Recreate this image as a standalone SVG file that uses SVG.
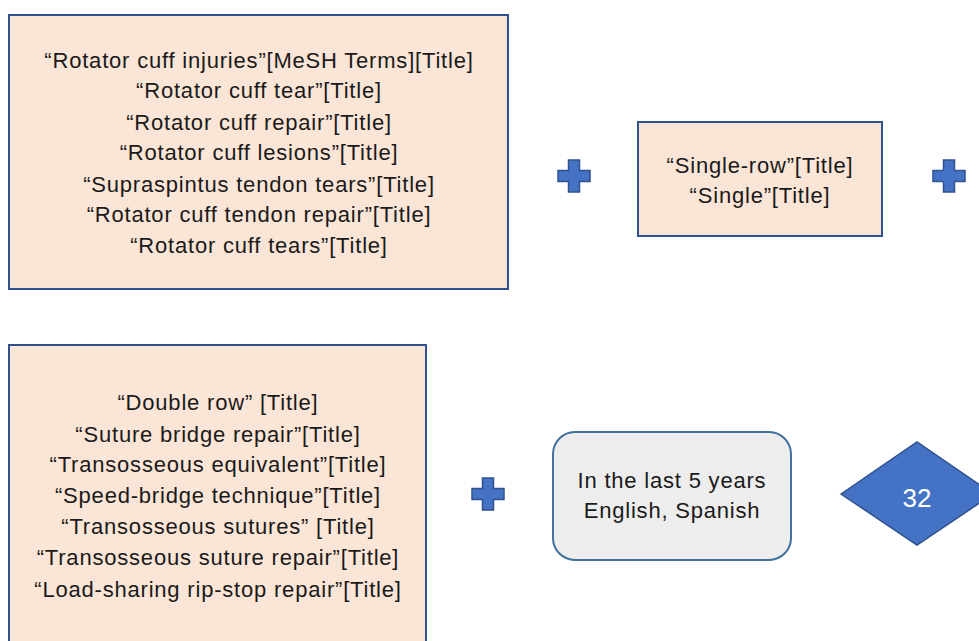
<svg xmlns="http://www.w3.org/2000/svg" width="979" height="641" viewBox="0 0 979 641">
<defs>
<style>
.box{fill:#FBE5D6;stroke:#2F528F;stroke-width:2}
.gbox{fill:#EDEDED;stroke:#41719C;stroke-width:2}
.plus{fill:#4472C4;stroke:#2F528F;stroke-width:1.5}
.t{font-family:"Liberation Sans",Arial,sans-serif;font-size:22px;letter-spacing:0.8px;fill:#1a1a1a;text-anchor:middle}
.w{font-family:"Liberation Sans",Arial,sans-serif;font-size:26px;fill:#ffffff;text-anchor:middle}
</style>
<path id="plusShape" d="M-5.5,-16 H5.5 V-5.5 H16 V5.5 H5.5 V16 H-5.5 V5.5 H-16 V-5.5 H-5.5 Z"/>
</defs>
<rect width="979" height="641" fill="#ffffff"/>
<g id="box1">
<rect class="box" x="9" y="15" width="499" height="274"/>
<text class="t" x="259" y="68">“Rotator cuff injuries”[MeSH Terms][Title]</text>
<text class="t" x="259" y="98">“Rotator cuff tear”[Title]</text>
<text class="t" x="259" y="130">“Rotator cuff repair”[Title]</text>
<text class="t" x="259" y="160">“Rotator cuff lesions”[Title]</text>
<text class="t" x="259" y="192">“Supraspintus tendon tears”[Title]</text>
<text class="t" x="259" y="222">“Rotator cuff tendon repair”[Title]</text>
<text class="t" x="259" y="253">“Rotator cuff tears”[Title]</text>
</g>
<g id="box2">
<rect class="box" x="638" y="122" width="244" height="114"/>
<text class="t" x="760" y="173">“Single-row”[Title]</text>
<text class="t" x="760" y="203">“Single”[Title]</text>
</g>
<g id="box3">
<rect class="box" x="9" y="345" width="417" height="310"/>
<text class="t" x="218" y="410">“Double row” [Title]</text>
<text class="t" x="218" y="442">“Suture bridge repair”[Title]</text>
<text class="t" x="218" y="472">“Transosseous equivalent”[Title]</text>
<text class="t" x="218" y="503">“Speed-bridge technique”[Title]</text>
<text class="t" x="218" y="534">“Transosseous sutures” [Title]</text>
<text class="t" x="218" y="565">“Transosseous suture repair”[Title]</text>
<text class="t" x="218" y="597">“Load-sharing rip-stop repair”[Title]</text>
</g>
<g id="filters">
<rect class="gbox" x="553" y="432" width="238" height="128" rx="22" ry="22"/>
<text class="t" x="672" y="488">In the last 5 years</text>
<text class="t" x="672" y="518">English, Spanish</text>
</g>
<g id="result">
<polygon points="841,494 917,442 993,494 917,545" fill="#4472C4" stroke="#2F528F" stroke-width="1.5"/>
<text class="w" x="917" y="507">32</text>
</g>
<g id="connectors">
<use href="#plusShape" class="plus" transform="translate(574,176)"/>
<use href="#plusShape" class="plus" transform="translate(949,176)"/>
<use href="#plusShape" class="plus" transform="translate(488,494)"/>
</g>
</svg>
